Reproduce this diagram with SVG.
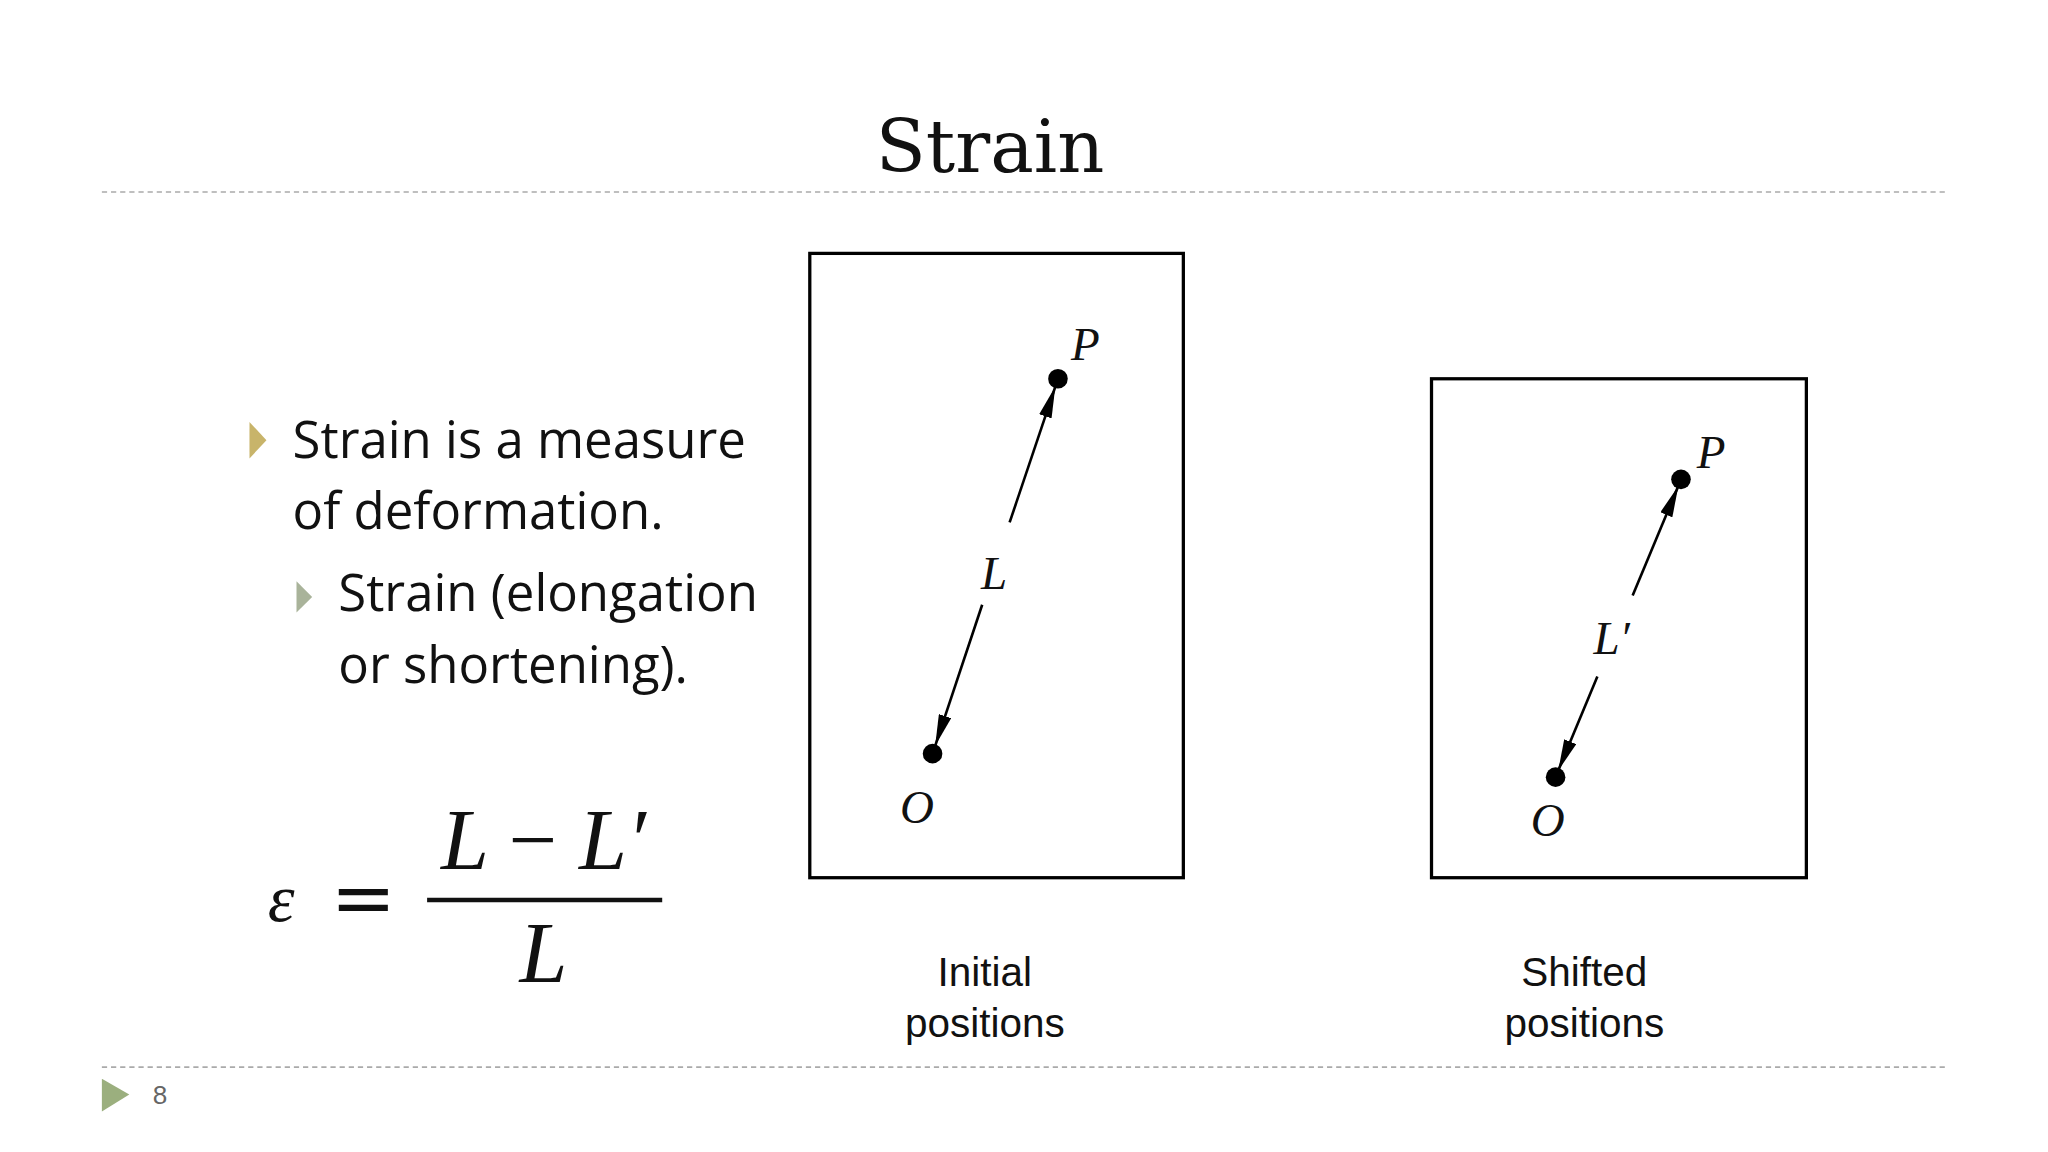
<svg xmlns="http://www.w3.org/2000/svg" width="2048" height="1152" viewBox="0 0 2048 1152">
<style>
.dash{stroke:#aaa;stroke-width:1.3;stroke-dasharray:4 3}
.body{font-family:"Open Sans","Liberation Sans",sans-serif;font-size:39px;fill:#111}
.math{font-family:"Liberation Serif",serif;font-style:italic;fill:#111}
.cap{font-family:"Liberation Sans",sans-serif;font-size:31px;fill:#111;text-anchor:middle}
.box{fill:none;stroke:#000;stroke-width:2.5}
.vec{stroke:#000;stroke-width:2;marker-end:url(#ah)}
</style>
<defs>
<marker id="ah" viewBox="0 0 24 10" refX="24" refY="5" markerWidth="24" markerHeight="10" markerUnits="userSpaceOnUse" orient="auto">
<path d="M0,0 L24,5 L0,10 Z" fill="#000"/>
</marker>
</defs>
<rect width="2048" height="1152" fill="#fff"/>
<g transform="scale(1.30612)">
<g id="title"><text x="758" y="132" text-anchor="middle" font-family="'DejaVu Serif','Liberation Serif',serif" font-size="56" fill="#111">Strain</text></g>
<line class="dash" x1="78" y1="147" x2="1490" y2="147"/>
<line class="dash" x1="78" y1="817" x2="1490" y2="817"/>
<g id="footer"><polygon points="78,826 99,838 78,851" fill="#9BAF7E"/><text x="117" y="845" font-family="'Liberation Sans',sans-serif" font-size="20" fill="#666">8</text></g>
<g id="bullets">
<polygon points="191,323 204,337 191,351" fill="#C8B46A"/>
<text class="body" x="224" y="351">Strain is a measure</text>
<text class="body" x="224" y="405">of deformation.</text>
<polygon points="227,445 239,457 227,469" fill="#A9B39A"/>
<text class="body" x="259" y="468">Strain (elongation</text>
<text class="body" x="259" y="523">or shortening).</text>
</g>
<g id="formula">
<text class="math" x="205" y="705" font-size="52">ε</text>
<text x="253" y="708" font-family="'DejaVu Serif','Liberation Serif',serif" font-size="60" fill="#111">=</text>
<text class="math" x="416" y="665" font-size="66" text-anchor="middle">L <tspan font-style="normal">−</tspan> L′</text>
<line x1="327" y1="689" x2="507" y2="689" stroke="#111" stroke-width="3.5"/>
<text class="math" x="416" y="752" font-size="66" text-anchor="middle">L</text>
</g>
<g id="connectors">
<line class="vec" x1="773" y1="400" x2="808" y2="296"/>
<line class="vec" x1="752" y1="463" x2="716" y2="571"/>
<line class="vec" x1="1250" y1="456" x2="1285" y2="372"/>
<line class="vec" x1="1223" y1="518" x2="1193" y2="590"/>
</g>
<g id="initial">
<rect class="box" x="620" y="194" width="286" height="478"/>
<circle cx="810" cy="290" r="7.5"/><circle cx="714" cy="577" r="7.5"/>
<text class="math" x="820" y="276" font-size="36">P</text>
<text class="math" x="689" y="630" font-size="36">O</text>
<text class="math" x="751" y="451" font-size="36">L</text>
<text class="cap" x="754" y="755">Initial</text><text class="cap" x="754" y="794">positions</text>
</g>
<g id="shifted">
<rect class="box" x="1096" y="290" width="287" height="382"/>
<circle cx="1287" cy="367" r="7.5"/><circle cx="1191" cy="595" r="7.5"/>
<text class="math" x="1299" y="358" font-size="36">P</text>
<text class="math" x="1172" y="640" font-size="36">O</text>
<text class="math" x="1220" y="501" font-size="36">L′</text>
<text class="cap" x="1213" y="755">Shifted</text><text class="cap" x="1213" y="794">positions</text>
</g>
</g>
</svg>
